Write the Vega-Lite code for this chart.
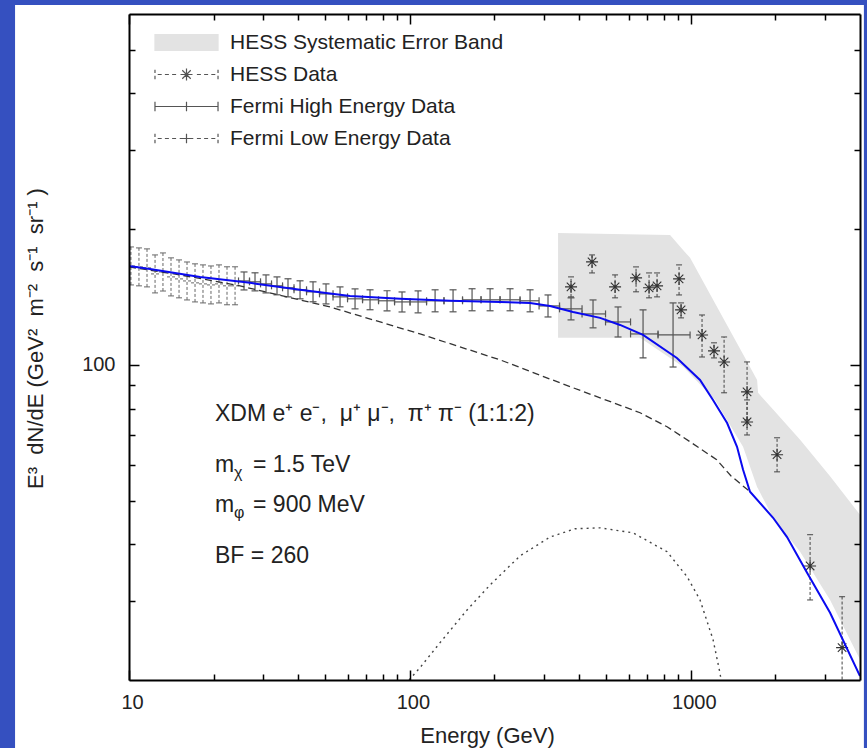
{
"$schema":"https://vega.github.io/schema/vega-lite/v6.json",
"width":731,"height":666,
"autosize":{"type":"none"},
"padding":{"left":129,"top":14,"right":7,"bottom":68},
"background":"#3550c0",
"config":{"view":{"stroke":null},"font":"Liberation Sans"},
"datasets":{
"fermiLE":[
{"E":10.16,"F":165.7,"lo":150.4,"hi":182.6,"xlo":9.83,"xhi":10.50},
{"E":10.85,"F":164.9,"lo":149.7,"hi":181.7,"xlo":10.50,"xhi":11.21},
{"E":11.59,"F":164.1,"lo":148.9,"hi":180.8,"xlo":11.22,"xhi":11.98},
{"E":12.38,"F":159.1,"lo":144.4,"hi":175.3,"xlo":11.98,"xhi":12.79},
{"E":13.21,"F":160.7,"lo":145.8,"hi":177.1,"xlo":12.78,"xhi":13.65},
{"E":14.11,"F":156.7,"lo":142.2,"hi":172.7,"xlo":13.66,"xhi":14.58},
{"E":15.07,"F":155.1,"lo":140.8,"hi":170.9,"xlo":14.58,"xhi":15.57},
{"E":16.09,"F":153.5,"lo":139.3,"hi":169.1,"xlo":15.57,"xhi":16.63},
{"E":17.18,"F":152.0,"lo":137.9,"hi":167.5,"xlo":16.63,"xhi":17.75},
{"E":18.34,"F":151.2,"lo":137.2,"hi":166.6,"xlo":17.75,"xhi":18.95},
{"E":19.58,"F":150.4,"lo":136.5,"hi":165.7,"xlo":18.95,"xhi":20.23},
{"E":20.91,"F":151.2,"lo":137.2,"hi":166.6,"xlo":20.24,"xhi":21.61},
{"E":22.33,"F":149.7,"lo":135.9,"hi":165.0,"xlo":21.61,"xhi":23.07},
{"E":23.85,"F":149.7,"lo":135.9,"hi":165.0,"xlo":23.08,"xhi":24.64}
],
"fermiHE":[
{"E":25.67,"F":153.5,"lo":146.6,"hi":160.7,"xlo":24.54,"xhi":26.85},
{"E":28.09,"F":152.8,"lo":145.9,"hi":160.0,"xlo":26.85,"xhi":29.39},
{"E":30.74,"F":151.2,"lo":144.4,"hi":158.3,"xlo":29.39,"xhi":32.16},
{"E":33.64,"F":149.7,"lo":143.0,"hi":156.7,"xlo":32.16,"xhi":35.20},
{"E":36.81,"F":148.2,"lo":141.5,"hi":155.2,"xlo":35.20,"xhi":38.67},
{"E":40.63,"F":146.7,"lo":140.1,"hi":153.6,"xlo":38.67,"xhi":42.85},
{"E":45.19,"F":145.2,"lo":138.0,"hi":152.8,"xlo":42.85,"xhi":47.66},
{"E":50.27,"F":143.7,"lo":136.5,"hi":151.2,"xlo":47.66,"xhi":53.24},
{"E":56.39,"F":141.5,"lo":134.5,"hi":148.9,"xlo":53.24,"xhi":59.96},
{"E":63.77,"F":140.1,"lo":133.1,"hi":147.4,"xlo":59.96,"xhi":67.81},
{"E":72.11,"F":139.4,"lo":132.5,"hi":146.7,"xlo":67.81,"xhi":77.30},
{"E":82.89,"F":138.7,"lo":131.8,"hi":146.0,"xlo":77.30,"xhi":88.15},
{"E":93.73,"F":137.9,"lo":131.0,"hi":145.1,"xlo":88.15,"xhi":100.1},
{"E":106.9,"F":137.9,"lo":130.4,"hi":145.9,"xlo":100.1,"xhi":114.6},
{"E":122.9,"F":138.7,"lo":131.1,"hi":146.7,"xlo":114.6,"xhi":132.2},
{"E":142.4,"F":138.7,"lo":131.1,"hi":146.7,"xlo":132.2,"xhi":153.9},
{"E":166.4,"F":139.4,"lo":131.8,"hi":147.5,"xlo":153.9,"xhi":179.1},
{"E":192.9,"F":139.4,"lo":131.8,"hi":147.5,"xlo":179.1,"xhi":209.3},
{"E":227.2,"F":139.4,"lo":131.8,"hi":147.5,"xlo":209.3,"xhi":246.6},
{"E":267.7,"F":138.7,"lo":131.1,"hi":146.7,"xlo":246.6,"xhi":288.2},
{"E":310.1,"F":135.1,"lo":127.7,"hi":142.9,"xlo":288.2,"xhi":340.9},
{"E":374.5,"F":133.1,"lo":125.8,"hi":140.8,"xlo":340.9,"xhi":409.9},
{"E":448.5,"F":129.7,"lo":120.8,"hi":139.3,"xlo":409.9,"xhi":496.9},
{"E":550.5,"F":124.5,"lo":115.3,"hi":134.4,"xlo":496.9,"xhi":610.0},
{"E":675.8,"F":117.1,"lo":103.6,"hi":132.4,"xlo":610.0,"xhi":764.1},
{"E":864.2,"F":116.5,"lo":98.9,"hi":137.2,"xlo":764.1,"xhi":993.6}
],
"hess":[
{"E":374.5,"F":148.9,"lo":141.5,"hi":156.7},
{"E":444.9,"F":169.2,"lo":159.9,"hi":175.3},
{"E":537.3,"F":148.9,"lo":140.8,"hi":158.3},
{"E":638.1,"F":155.9,"lo":145.2,"hi":164.9},
{"E":709.9,"F":148.2,"lo":140.8,"hi":159.9},
{"E":758.0,"F":149.7,"lo":141.5,"hi":159.9},
{"E":907.8,"F":155.1,"lo":142.9,"hi":166.6},
{"E":922.8,"F":132.4,"lo":127.1,"hi":137.2},
{"E":1096,"F":116.5,"lo":104.1,"hi":129.0},
{"E":1209,"F":107.4,"lo":103.6,"hi":111.9},
{"E":1313,"F":101.5,"lo":86.7,"hi":115.3},
{"E":1585,"F":87.1,"lo":75.5,"hi":101.5},
{"E":1585,"F":74.7,"lo":69.9,"hi":83.6},
{"E":2027,"F":63.2,"lo":57.9,"hi":68.9},
{"E":2657,"F":35.8,"lo":30.1,"hi":42.0},
{"E":3454,"F":23.6,"lo":18.1,"hi":30.6}
],
"band":[
{"E":336.7,"upper":196.2,"lower":114.8},
{"E":659.5,"upper":194.7,"lower":114.8},
{"E":843.3,"upper":194.2,"lower":103.5},
{"E":938.0,"upper":179.8,"lower":99.0},
{"E":993.6,"upper":172.7,"lower":95.4},
{"E":1219,"upper":136.9,"lower":83.6},
{"E":1534,"upper":105.5,"lower":65.8},
{"E":1721,"upper":92.6,"lower":53.6},
{"E":1735,"upper":86.7,"lower":53.1},
{"E":1962,"upper":79.6,"lower":45.8},
{"E":2448,"upper":68.2,"lower":38.5},
{"E":3130,"upper":56.6,"lower":30.1},
{"E":4000,"upper":46.5,"lower":22.2}
],
"model":[
{"E":10,"F":165.7},{"E":11.88,"F":163.2},{"E":17.9,"F":156.7},{"E":26.97,"F":152.0},{"E":40.63,"F":146.7},{"E":61.2,"F":142.2},{"E":92.2,"F":140.1},{"E":138.9,"F":138.7},{"E":209.3,"F":137.9},{"E":267.7,"F":137.2},{"E":315.2,"F":135.1},{"E":380.8,"F":131.0},{"E":475.1,"F":127.1},{"E":559.7,"F":122.6},{"E":675.8,"F":116.5},{"E":891.7,"F":103.6},{"E":1078,"F":92.6},{"E":1199,"F":83.6},{"E":1346,"F":74.3},{"E":1460,"F":65.8},{"E":1534,"F":58.5},{"E":1624,"F":52.3},{"E":1962,"F":45.8},{"E":2200,"F":41.5},{"E":2592,"F":34.6},{"E":3130,"F":28.2},{"E":4000,"F":20.4}
],
"bkg":[
{"E":10,"F":164.9},{"E":15.2,"F":158.3},{"E":24.84,"F":149.7},{"E":51.95,"F":134.4},{"E":108.6,"F":117.1},{"E":209.3,"F":102.6},{"E":342.3,"F":91.2},{"E":475.1,"F":84.5},{"E":659.5,"F":78.3},{"E":822.9,"F":72.9},{"E":993.6,"F":67.5},{"E":1236,"F":61.6},{"E":1390,"F":56.7},{"E":1624,"F":52.3}
],
"dm":[
{"E":99.3,"F":20.0},{"E":108.6,"F":21.3},{"E":128.0,"F":24.2},{"E":159.7,"F":28.6},{"E":192.9,"F":32.5},{"E":246.6,"F":37.7},{"E":315.2,"F":41.5},{"E":387.1,"F":43.3},{"E":475.1,"F":43.5},{"E":622.8,"F":42.4},{"E":822.9,"F":38.5},{"E":969.4,"F":33.9},{"E":1078,"F":30.1},{"E":1199,"F":24.6},{"E":1270,"F":20.7},{"E":1281,"F":20.0}
],
"notes":[
{"label":"XDM e\u207a e\u207b,\u00a0 \u03bc\u207a \u03bc\u207b,\u00a0 \u03c0\u207a \u03c0\u207b (1:1:2)","part":"main","E":20.24,"F":75.1},
{"label":"m","part":"main","E":20.24,"F":57.9},
{"label":"\u03c7","part":"sub","E":20.24,"F":57.9},
{"label":"= 1.5 TeV","part":"rest","E":20.24,"F":57.9},
{"label":"m","part":"main","E":20.24,"F":47.2},
{"label":"\u03c6","part":"sub","E":20.24,"F":47.2},
{"label":"= 900 MeV","part":"rest","E":20.24,"F":47.2},
{"label":"BF = 260","part":"main","E":20.24,"F":36.4}
]
},
"resolve":{"axis":{"x":"independent","y":"independent"}},
"layer":[
{"data":{"values":[{}]},"mark":{"type":"rect","fill":"white","clip":false},
 "encoding":{"x":{"datum":3.93,"type":"quantitative","scale":{"type":"log","domain":[10,4000],"nice":false},"axis":null},"x2":{"datum":4130},
 "y":{"datum":628,"type":"quantitative","scale":{"type":"log","domain":[20,600],"nice":false},"axis":null},"y2":{"datum":10}}},
{"data":{"name":"band"},"mark":{"type":"area","orient":"vertical","color":"#e3e3e3","opacity":1,"clip":true},
 "encoding":{"x":{"field":"E","type":"quantitative","scale":{"type":"log","domain":[10,4000],"nice":false},
   "axis":{"orient":"top","values":[20,30,40,50,60,70,80,90,200,300,400,500,600,700,800,900,2000,3000],"tickSize":-6,"tickWidth":1.5,"tickColor":"black","domain":false,"labels":false,"title":null,"grid":false,"zindex":1}},
  "y":{"field":"upper","type":"quantitative","scale":{"type":"log","domain":[20,600],"nice":false},
   "axis":{"orient":"right","values":[30,40,50,60,70,80,90,200,300,400,500],"tickSize":-6,"tickWidth":1.5,"tickColor":"black","domain":false,"labels":false,"title":null,"grid":false,"zindex":1}},
  "y2":{"field":"lower"}}},
{"data":{"name":"fermiLE"},"mark":{"type":"rule","color":"#666666","strokeWidth":1,"strokeDash":[3,2],"clip":true},
 "encoding":{"x":{"field":"E","type":"quantitative","scale":{"type":"log","domain":[10,4000],"nice":false},"axis":null},
  "y":{"field":"lo","type":"quantitative","scale":{"type":"log","domain":[20,600],"nice":false},"axis":null},"y2":{"field":"hi"}}},
{"data":{"name":"fermiLE"},"mark":{"type":"rule","color":"#666666","strokeWidth":1,"strokeDash":[3,2],"clip":true},
 "encoding":{"x":{"field":"xlo","type":"quantitative","scale":{"type":"log","domain":[10,4000],"nice":false},"axis":null},"x2":{"field":"xhi"},
  "y":{"field":"F","type":"quantitative","scale":{"type":"log","domain":[20,600],"nice":false},"axis":null}}},
{"data":{"name":"fermiLE"},"mark":{"type":"tick","orient":"horizontal","size":6,"thickness":1,"color":"#666666","opacity":1,"clip":true},
 "encoding":{"x":{"field":"E","type":"quantitative","scale":{"type":"log","domain":[10,4000],"nice":false},"axis":null},
  "y":{"field":"lo","type":"quantitative","scale":{"type":"log","domain":[20,600],"nice":false},"axis":null}}},
{"data":{"name":"fermiLE"},"mark":{"type":"tick","orient":"horizontal","size":6,"thickness":1,"color":"#666666","opacity":1,"clip":true},
 "encoding":{"x":{"field":"E","type":"quantitative","scale":{"type":"log","domain":[10,4000],"nice":false},"axis":null},
  "y":{"field":"hi","type":"quantitative","scale":{"type":"log","domain":[20,600],"nice":false},"axis":null}}},
{"data":{"name":"fermiHE"},"mark":{"type":"rule","color":"#555555","strokeWidth":1.2,"clip":true},
 "encoding":{"x":{"field":"E","type":"quantitative","scale":{"type":"log","domain":[10,4000],"nice":false},"axis":null},
  "y":{"field":"lo","type":"quantitative","scale":{"type":"log","domain":[20,600],"nice":false},"axis":null},"y2":{"field":"hi"}}},
{"data":{"name":"fermiHE"},"mark":{"type":"rule","color":"#555555","strokeWidth":1.2,"clip":true},
 "encoding":{"x":{"field":"xlo","type":"quantitative","scale":{"type":"log","domain":[10,4000],"nice":false},"axis":null},"x2":{"field":"xhi"},
  "y":{"field":"F","type":"quantitative","scale":{"type":"log","domain":[20,600],"nice":false},"axis":null}}},
{"data":{"name":"fermiHE"},"mark":{"type":"tick","orient":"horizontal","size":7,"thickness":1.2,"color":"#555555","opacity":1,"clip":true},
 "encoding":{"x":{"field":"E","type":"quantitative","scale":{"type":"log","domain":[10,4000],"nice":false},"axis":null},
  "y":{"field":"lo","type":"quantitative","scale":{"type":"log","domain":[20,600],"nice":false},"axis":null}}},
{"data":{"name":"fermiHE"},"mark":{"type":"tick","orient":"horizontal","size":7,"thickness":1.2,"color":"#555555","opacity":1,"clip":true},
 "encoding":{"x":{"field":"E","type":"quantitative","scale":{"type":"log","domain":[10,4000],"nice":false},"axis":null},
  "y":{"field":"hi","type":"quantitative","scale":{"type":"log","domain":[20,600],"nice":false},"axis":null}}},
{"data":{"name":"fermiHE"},"mark":{"type":"tick","orient":"vertical","size":7,"thickness":1.2,"color":"#555555","opacity":1,"clip":true},
 "encoding":{"x":{"field":"xlo","type":"quantitative","scale":{"type":"log","domain":[10,4000],"nice":false},"axis":null},
  "y":{"field":"F","type":"quantitative","scale":{"type":"log","domain":[20,600],"nice":false},"axis":null}}},
{"data":{"name":"fermiHE"},"mark":{"type":"tick","orient":"vertical","size":7,"thickness":1.2,"color":"#555555","opacity":1,"clip":true},
 "encoding":{"x":{"field":"xhi","type":"quantitative","scale":{"type":"log","domain":[10,4000],"nice":false},"axis":null},
  "y":{"field":"F","type":"quantitative","scale":{"type":"log","domain":[20,600],"nice":false},"axis":null}}},
{"data":{"name":"hess"},"mark":{"type":"rule","color":"#444444","strokeWidth":1,"strokeDash":[3,2],"clip":true},
 "encoding":{"x":{"field":"E","type":"quantitative","scale":{"type":"log","domain":[10,4000],"nice":false},"axis":null},
  "y":{"field":"lo","type":"quantitative","scale":{"type":"log","domain":[20,600],"nice":false},"axis":null},"y2":{"field":"hi"}}},
{"data":{"name":"hess"},"mark":{"type":"tick","orient":"horizontal","size":6,"thickness":1,"color":"#444444","opacity":1,"clip":true},
 "encoding":{"x":{"field":"E","type":"quantitative","scale":{"type":"log","domain":[10,4000],"nice":false},"axis":null},
  "y":{"field":"lo","type":"quantitative","scale":{"type":"log","domain":[20,600],"nice":false},"axis":null}}},
{"data":{"name":"hess"},"mark":{"type":"tick","orient":"horizontal","size":6,"thickness":1,"color":"#444444","opacity":1,"clip":true},
 "encoding":{"x":{"field":"E","type":"quantitative","scale":{"type":"log","domain":[10,4000],"nice":false},"axis":null},
  "y":{"field":"hi","type":"quantitative","scale":{"type":"log","domain":[20,600],"nice":false},"axis":null}}},
{"data":{"name":"hess"},"mark":{"type":"point","shape":"M0,-1V1M-1,0H1M-0.71,-0.71L0.71,0.71M-0.71,0.71L0.71,-0.71","size":144,"filled":false,"stroke":"#333333","strokeWidth":1.1,"opacity":1,"clip":true},
 "encoding":{"x":{"field":"E","type":"quantitative","scale":{"type":"log","domain":[10,4000],"nice":false},"axis":null},
  "y":{"field":"F","type":"quantitative","scale":{"type":"log","domain":[20,600],"nice":false},"axis":null}}},
{"data":{"name":"bkg"},"mark":{"type":"line","color":"#333333","strokeWidth":1.3,"strokeDash":[7,4],"interpolate":"linear","clip":true},
 "encoding":{"x":{"field":"E","type":"quantitative","scale":{"type":"log","domain":[10,4000],"nice":false},
   "axis":{"orient":"bottom","values":[20,30,40,50,60,70,80,90,200,300,400,500,600,700,800,900,2000,3000],"tickSize":-6,"tickWidth":1.5,"tickColor":"black","domain":false,"labels":false,"title":null,"grid":false,"zindex":1}},
  "y":{"field":"F","type":"quantitative","scale":{"type":"log","domain":[20,600],"nice":false},
   "axis":{"orient":"left","values":[30,40,50,60,70,80,90,200,300,400,500],"tickSize":-6,"tickWidth":1.5,"tickColor":"black","domain":false,"labels":false,"title":null,"grid":false,"zindex":1}}}},
{"data":{"name":"dm"},"mark":{"type":"line","color":"#444444","strokeWidth":1.4,"strokeDash":[2,4],"interpolate":"linear","clip":true},
 "encoding":{"x":{"field":"E","type":"quantitative","scale":{"type":"log","domain":[10,4000],"nice":false},
   "axis":{"orient":"top","values":[10,100,1000],"tickSize":-10,"tickWidth":1.5,"tickColor":"black","domain":true,"domainColor":"black","domainWidth":2,"labels":false,"title":null,"grid":false,"zindex":1}},
  "y":{"field":"F","type":"quantitative","scale":{"type":"log","domain":[20,600],"nice":false},
   "axis":{"orient":"right","values":[100],"tickSize":-10,"tickWidth":1.5,"tickColor":"black","domain":true,"domainColor":"black","domainWidth":2,"labels":false,"title":null,"grid":false,"zindex":1}}}},
{"data":{"name":"model"},"mark":{"type":"line","color":"#0a0af0","strokeWidth":2,"interpolate":"linear","clip":true},
 "encoding":{"x":{"field":"E","type":"quantitative","scale":{"type":"log","domain":[10,4000],"nice":false},
   "axis":{"orient":"bottom","values":[10,100,1000],"format":"d","tickSize":-10,"tickWidth":1.5,"tickColor":"black","domain":true,"domainColor":"black","domainWidth":2,"labels":true,"labelFont":"Liberation Sans","labelFontSize":20,"labelColor":"#222222","labelPadding":22,"labelOffset":3,"labelFlush":false,"labelOverlap":false,"title":"Energy (GeV)","titleFont":"Liberation Sans","titleFontSize":22,"titleFontWeight":"normal","titleColor":"#222222","titleX":358,"titleY":62,"titleBaseline":"alphabetic","titleAlign":"center","grid":false,"zindex":1}},
  "y":{"field":"F","type":"quantitative","scale":{"type":"log","domain":[20,600],"nice":false},
   "axis":{"orient":"left","values":[100],"format":"d","tickSize":-10,"tickWidth":1.5,"tickColor":"black","domain":true,"domainColor":"black","domainWidth":2,"labels":true,"labelFont":"Liberation Sans","labelFontSize":20,"labelColor":"#222222","labelPadding":24,"labelFlush":false,"labelOverlap":false,"title":"E\u00b3\u00a0 dN/dE (GeV\u00b2\u00a0 m\u207b\u00b2\u00a0 s\u207b\u00b9\u00a0 sr\u207b\u00b9\u00a0)","titleFont":"Liberation Sans","titleFontSize":22,"titleFontWeight":"normal","titleColor":"#222222","titleX":-87,"titleY":324,"titleAngle":270,"titleBaseline":"alphabetic","titleAlign":"center","grid":false,"zindex":1}}}},
{"data":{"name":"notes"},"transform":[{"filter":"datum.part == 'main'"}],"mark":{"type":"text","align":"left","baseline":"alphabetic","font":"Liberation Sans","fontSize":23,"color":"#222222"},
 "encoding":{"x":{"field":"E","type":"quantitative","scale":{"type":"log","domain":[10,4000],"nice":false},"axis":null},
  "y":{"field":"F","type":"quantitative","scale":{"type":"log","domain":[20,600],"nice":false},"axis":null},
  "text":{"field":"label","type":"nominal"}}},
{"data":{"name":"notes"},"transform":[{"filter":"datum.part == 'sub'"}],"mark":{"type":"text","align":"left","baseline":"alphabetic","font":"Liberation Sans","fontSize":16,"color":"#222222","dx":19,"dy":6},
 "encoding":{"x":{"field":"E","type":"quantitative","scale":{"type":"log","domain":[10,4000],"nice":false},"axis":null},
  "y":{"field":"F","type":"quantitative","scale":{"type":"log","domain":[20,600],"nice":false},"axis":null},
  "text":{"field":"label","type":"nominal"}}},
{"data":{"name":"notes"},"transform":[{"filter":"datum.part == 'rest'"}],"mark":{"type":"text","align":"left","baseline":"alphabetic","font":"Liberation Sans","fontSize":23,"color":"#222222","dx":38},
 "encoding":{"x":{"field":"E","type":"quantitative","scale":{"type":"log","domain":[10,4000],"nice":false},"axis":null},
  "y":{"field":"F","type":"quantitative","scale":{"type":"log","domain":[20,600],"nice":false},"axis":null},
  "text":{"field":"label","type":"nominal"}}},
{"data":{"values":[]},"mark":{"type":"point","filled":true,"opacity":1,"strokeWidth":1.2,"size":256},
 "encoding":{
  "fill":{"field":"series","type":"nominal","scale":{"domain":["HESS Systematic Error Band","HESS Data","Fermi High Energy Data","Fermi Low Energy Data"],"range":["#e3e3e3","transparent","transparent","transparent"]},
   "legend":{"orient":"none","legendX":47,"legendY":18,"title":null,"padding":0,"labelFont":"Liberation Sans","labelFontSize":21,"labelColor":"#222222","labelOffset":33,"labelLimit":400,"rowPadding":10,"symbolSize":256,"symbolStrokeWidth":1.2,"symbolOpacity":1}},
  "stroke":{"field":"series","type":"nominal","scale":{"domain":["HESS Systematic Error Band","HESS Data","Fermi High Energy Data","Fermi Low Energy Data"],"range":["#e3e3e3","#555555","#555555","#555555"]},
   "legend":{"orient":"none","legendX":47,"legendY":18,"title":null,"padding":0,"labelFont":"Liberation Sans","labelFontSize":21,"labelColor":"#222222","labelOffset":33,"labelLimit":400,"rowPadding":10,"symbolSize":256,"symbolStrokeWidth":1.2,"symbolOpacity":1}},
  "shape":{"field":"series","type":"nominal","scale":{"domain":["HESS Systematic Error Band","HESS Data","Fermi High Energy Data","Fermi Low Energy Data"],
    "range":["M-3.94,-1H3.94V1H-3.94Z",
     "M-3.94,-0.6V-0.2M-3.94,0.15V0.6M3.94,-0.6V-0.2M3.94,0.15V0.6M-3.6,0H-3.1M-2.7,0H-2.2M-1.8,0H-1.3M1.3,0H1.8M2.2,0H2.7M3.1,0H3.6M0,-0.75V0.75M-0.75,0H0.75M-0.53,-0.53L0.53,0.53M-0.53,0.53L0.53,-0.53",
     "M-3.94,0H3.94M-3.94,-0.6V0.6M3.94,-0.6V0.6M0,-0.6V0.6",
     "M-3.94,-0.6V-0.2M-3.94,0.15V0.6M3.94,-0.6V-0.2M3.94,0.15V0.6M-3.6,0H-3.1M-2.7,0H-2.2M-1.8,0H-1.3M-0.85,0H0.85M0,-0.6V0.6M1.3,0H1.8M2.2,0H2.7M3.1,0H3.6"]},
   "legend":{"orient":"none","legendX":47,"legendY":18,"title":null,"padding":0,"labelFont":"Liberation Sans","labelFontSize":21,"labelColor":"#222222","labelOffset":33,"labelLimit":400,"rowPadding":10,"symbolSize":256,"symbolStrokeWidth":1.2,"symbolOpacity":1}}
 }}
]
}
